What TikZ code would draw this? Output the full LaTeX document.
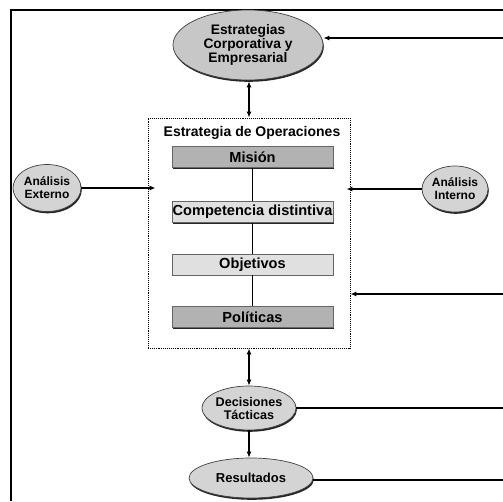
\documentclass[tikz,border=0pt]{standalone}
\usepackage{fontspec}
\setmainfont{Liberation Sans}
\usetikzlibrary{arrows.meta,shapes.geometric,shadows}
\begin{document}
\begin{tikzpicture}[x=1pt,y=-1pt,
  frameline/.style={line width=1.8pt,black},
  conn/.style={line width=1.3pt,black},
  tip/.style={-{Latex[length=6pt,width=5pt]}},
  twotip/.style={{Latex[length=6pt,width=5pt]}-{Latex[length=6pt,width=5pt]}},
  oval/.style={ellipse,draw=black!75,line width=0.7pt,fill=black!17,inner sep=0pt,
    align=center,font=\bfseries,
    drop shadow={shadow xshift=0.8pt,shadow yshift=-1.8pt,fill=black!85,opacity=1}},
  opsbox/.style={draw,densely dotted,line width=0.9pt,minimum width=202pt,minimum height=230pt,inner sep=0pt},
  stepbox/.style={draw=black!60,line width=0.5pt,minimum width=161pt,minimum height=21pt,inner sep=0pt,
    font=\fontsize{14.6}{16}\selectfont\bfseries,
    drop shadow={shadow xshift=1.2pt,shadow yshift=-1.2pt,fill=black!85,opacity=1}},
  darkstep/.style={stepbox,fill=black!30},
  lightstep/.style={stepbox,fill=black!12}]
\useasboundingbox (0,0) rectangle (503,501);

% outer frame (open on the right and bottom)
\draw[frameline] (11,501) -- (11,10) -- (503,10);

% operations strategy block
\node[opsbox] (ops) at (249,233) {};
\node[font=\fontsize{14}{16}\selectfont\bfseries] (opstitle) at (252,133) {Estrategia de Operaciones};
\node[darkstep]  (mision) at (252.5,157)   {Misión};
\node[lightstep] (comp)   at (252.5,212)   {Competencia distintiva};
\node[lightstep] (obj)    at (252.5,264.5) {Objetivos};
\node[darkstep]  (pol)    at (252.5,317)   {Políticas};
\draw[line width=1pt] (mision) -- (comp) -- (obj) -- (pol);

% ovals
\node[oval,minimum width=150pt,minimum height=70pt,fill=black!22,
  font=\fontsize{13.8}{14}\selectfont\bfseries] (corp) at (248,45)
  {Estrategias\\Corporativa y\\Empresarial};
\node[oval,minimum width=68pt,minimum height=47pt,
  font=\fontsize{12}{13}\selectfont\bfseries] (ext) at (47,188) {Análisis\\Externo};
\node[oval,minimum width=66pt,minimum height=46pt,
  font=\fontsize{12}{13}\selectfont\bfseries] (int) at (455,189) {Análisis\\Interno};
\node[oval,minimum width=74pt,minimum height=44pt,
  font=\fontsize{12.6}{13}\selectfont\bfseries] (dec) at (249,408) {Decisiones\\Tácticas};
\node[oval,minimum width=124pt,minimum height=40pt,
  font=\fontsize{13}{14}\selectfont\bfseries] (res) at (251,478) {Resultados};

% free ends on the right margin
\coordinate (rcorp) at (503,38);
\coordinate (rops)  at (503,294);
\coordinate (rdec)  at (503,408);
\coordinate (rres)  at (503,480);

% connectors
\draw[conn,tip] (rcorp) -- (rcorp -| corp.east);
\draw[conn,twotip] (corp.south -| ops.north) ++(0,1) coordinate (c1) -- (ops.north);
\draw[conn,tip,shorten >=-8pt] (ext.east) -- (ext.east -| ops.west);
\draw[conn,tip,shorten >=-4pt] (int.west) -- (int.west -| ops.east);
\draw[conn,tip] (rops) -- (rops -| ops.east);
\draw[conn,twotip] (ops.south) -- (ops.south |- dec.north);
\draw[conn,tip] (dec.south) -- (dec.south |- res.north);
\draw[conn] (dec.east) -- (rdec);
\draw[conn] (res.east |- rres) -- (rres);
\end{tikzpicture}
\end{document}
